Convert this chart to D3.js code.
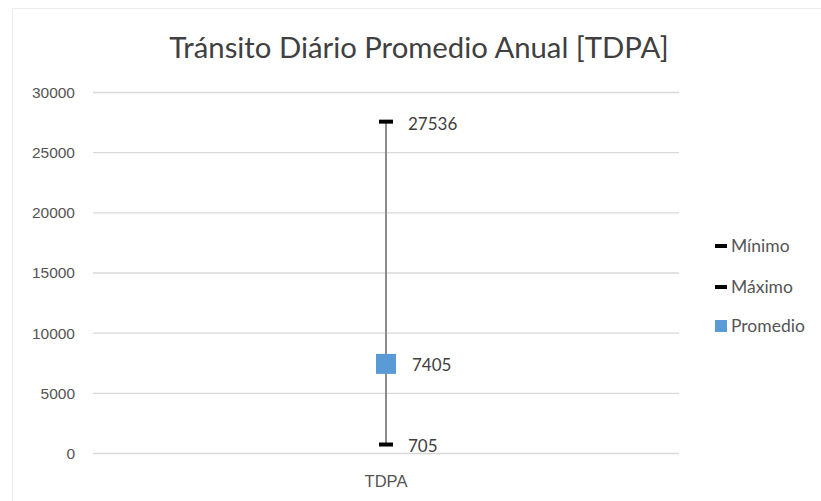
<!DOCTYPE html>
<html><head><meta charset="utf-8">
<script src="https://cdn.jsdelivr.net/npm/d3@7"></script>
<style>body{margin:0;background:#fff}svg{display:block;font-family:Lato,"Open Sans",sans-serif}</style>
</head><body><svg id="c" width="821" height="501"></svg>
<script>
const title = "Tránsito Diário Promedio Anual [TDPA]";
const categories = ["TDPA"];
const minimo = [705];
const maximo = [27536];
const promedio = [7405];
const yTicks = [0, 5000, 10000, 15000, 20000, 25000, 30000];
const legendLabels = ["Mínimo", "Máximo", "Promedio"];

const svg = d3.select("#c");
const m = {l: 93, r: 142, t: 92, b: 48};
const W = 821, H = 501;
const x = d3.scaleBand().domain(categories).range([m.l, W - m.r]);
const y = d3.scaleLinear().domain([0, 30000]).range([H - m.b, m.t]);

svg.append("rect").attr("x", 12.5).attr("y", 8.5).attr("width", 820).attr("height", 500)
  .attr("fill", "#fff").attr("stroke", "#ececec");

svg.append("text").attr("x", 419).attr("y", 58).attr("text-anchor", "middle")
  .attr("font-size", 29.3).attr("fill", "#404040").text(title);

const yAxis = svg.append("g").attr("transform", `translate(${m.l},0)`)
  .call(d3.axisLeft(y).tickValues(yTicks).tickSize(-(W - m.r - m.l)).tickFormat(d3.format("d")));
yAxis.select(".domain").remove();
yAxis.selectAll("line").attr("stroke", "#d9d9d9").attr("stroke-width", 1.3);
yAxis.selectAll("text").attr("x", -18).attr("font-size", 15.5).attr("fill", "#555").attr("dy", "0.35em");

const xAxis = svg.append("g").attr("transform", `translate(0,${H - m.b})`)
  .call(d3.axisBottom(x).tickSize(0));
xAxis.select(".domain").remove();
xAxis.selectAll("text").attr("dy", 0).attr("y", 34).attr("font-size", 16.5).attr("fill", "#555");

const g = svg.append("g");
categories.forEach((c, i) => {
  const cx = x(c) + x.bandwidth() / 2;
  g.append("line").attr("x1", cx).attr("x2", cx).attr("y1", y(minimo[i])).attr("y2", y(maximo[i]))
    .attr("stroke", "#8c8c8c").attr("stroke-width", 2);
  [minimo[i], maximo[i]].forEach(v => {
    g.append("rect").attr("x", cx - 7).attr("y", y(v) - 2).attr("width", 14).attr("height", 4).attr("fill", "#000");
    g.append("text").attr("x", cx + 22).attr("y", y(v) + 2).attr("dy", "0.35em")
      .attr("font-size", 17).attr("fill", "#404040").text(v);
  });
  g.append("rect").attr("x", cx - 10).attr("y", y(promedio[i]) - 10).attr("width", 20).attr("height", 20).attr("fill", "#5b9bd5");
  g.append("text").attr("x", cx + 26).attr("y", y(promedio[i]) + 1).attr("dy", "0.35em")
    .attr("font-size", 17).attr("fill", "#404040").text(promedio[i]);
});

const lg = svg.append("g");
const lgY = [246, 287, 326];
legendLabels.forEach((t, i) => {
  if (i < 2) lg.append("rect").attr("x", 715).attr("y", lgY[i] - 2).attr("width", 12).attr("height", 4).attr("fill", "#000");
  else lg.append("rect").attr("x", 715).attr("y", lgY[i] - 6).attr("width", 12).attr("height", 12).attr("fill", "#5b9bd5");
  lg.append("text").attr("x", 731).attr("y", lgY[i]).attr("dy", "0.35em").attr("font-size", 17.5).attr("fill", "#555").text(t);
});
</script></body></html>
